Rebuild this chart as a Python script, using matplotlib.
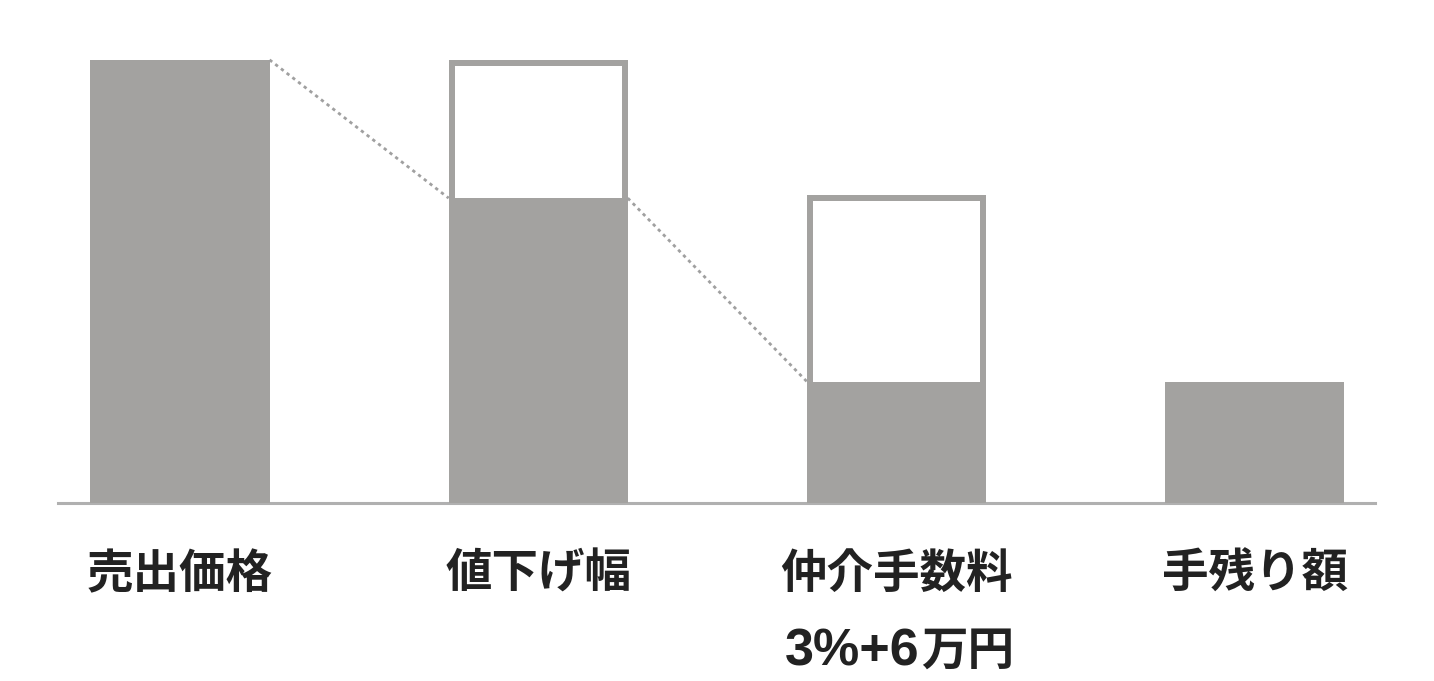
import matplotlib
matplotlib.use("Agg")
import matplotlib.pyplot as plt
from matplotlib.patches import Rectangle
from matplotlib.transforms import blended_transform_factory

plt.rcParams['font.family'] = ['Noto Sans CJK JP', 'DejaVu Sans']

# ---- data (relative amounts, 売出価格 = 100) ----
categories = ["売出価格", "値下げ幅", "仲介手数料", "手残り額"]
sublabel_num = "3%+6"        # second line under 仲介手数料 (numeric part)
sublabel_unit = "万円"        # second line under 仲介手数料 (unit part)
filled_values = [100, 68.8, 27.4, 27.4]      # solid grey part
outline_tops = [None, 100, 69.5, None]       # top of the outlined (white) part

GRAY = "#a3a2a0"
LINE_GRAY = "#b0b0b0"
DOT_GRAY = "#a0a0a0"
TEXT = "#222222"

W_PX, H_PX, DPI = 1434, 681, 100
fig = plt.figure(figsize=(W_PX / DPI, H_PX / DPI), dpi=DPI)

ax_left_px, ax_right_px = 58, 1375
ax_bottom_px = 503  # from top
ax = fig.add_axes([ax_left_px / W_PX, (H_PX - ax_bottom_px) / H_PX,
                   (ax_right_px - ax_left_px) / W_PX, ax_bottom_px / H_PX])

bar_w = 0.5
xmin, xmax = -0.3405, 3.336
ymax = 113.5
ax.set_xlim(xmin, xmax)
ax.set_ylim(0, ymax)
ax.axis("off")

x = list(range(len(categories)))

# pixel -> data conversion for the frame thickness
px_per_x = (ax_right_px - ax_left_px) / (xmax - xmin)
px_per_y = ax_bottom_px / ymax
frame_px = 6
fdx = frame_px / px_per_x
fdy = frame_px / px_per_y

for xi, fv, ot in zip(x, filled_values, outline_tops):
    top = fv if ot is None else ot
    ax.bar(xi, top, width=bar_w, bottom=0, color=GRAY, linewidth=0, zorder=2)
    if ot is not None:
        ax.add_patch(Rectangle((xi - bar_w / 2 + fdx, fv),
                               bar_w - 2 * fdx, ot - fv - fdy,
                               facecolor="white", edgecolor="none", zorder=3))

# baseline
ax.axhline(0, color=LINE_GRAY, linewidth=2.2, zorder=1, clip_on=False)

# connector dotted lines
conn_style = dict(color=DOT_GRAY, linewidth=2.0, linestyle=(0, (1.2, 1.4)), zorder=4)
ax.plot([x[0] + bar_w / 2, x[1] - bar_w / 2], [filled_values[0], filled_values[1]], **conn_style)
ax.plot([x[1] + bar_w / 2, x[2] - bar_w / 2], [filled_values[1], filled_values[2]], **conn_style)

# category labels (below axis)
trans = blended_transform_factory(ax.transData, fig.transFigure)
for xi, label in zip(x, categories):
    ax.text(xi, (H_PX - 574) / H_PX, label, transform=trans, ha="center", va="center",
            fontsize=33.5, fontweight="bold", color=TEXT)

# second line under 仲介手数料
split_px = 23
base_y = (H_PX - 665) / H_PX
ax.text(x[2] + split_px / px_per_x, base_y, sublabel_num, transform=trans,
        ha="right", va="baseline", fontsize=37.5, fontweight="bold",
        family=["Liberation Sans", "DejaVu Sans"], color=TEXT)
ax.text(x[2] + (split_px + 2) / px_per_x, base_y, sublabel_unit, transform=trans,
        ha="left", va="baseline", fontsize=33.5, fontweight="bold",
        family=["Noto Sans CJK JP", "DejaVu Sans"], color=TEXT)

fig.savefig("out.png", dpi=DPI)
